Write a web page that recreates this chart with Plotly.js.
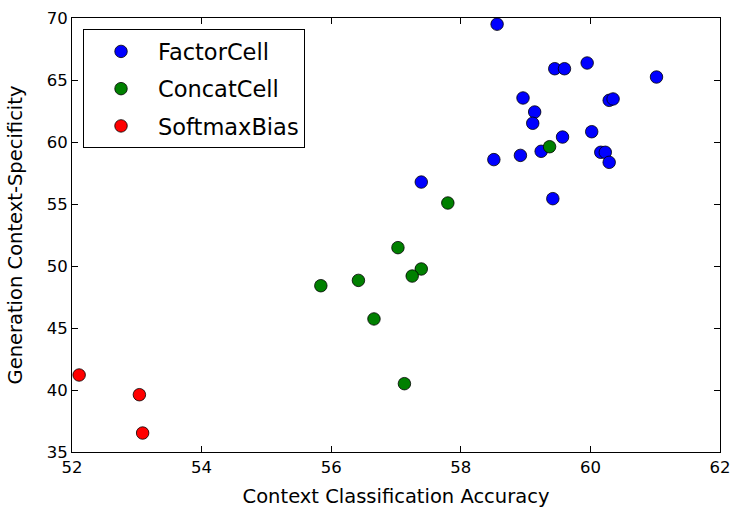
<!DOCTYPE html>
<html>
<head>
<meta charset="utf-8">
<script src="https://cdn.plot.ly/plotly-3.0.1.min.js"></script>
<style>html,body{margin:0;padding:0;background:#fff;}#chart{width:731px;height:508px;}</style>
</head>
<body>
<div id="chart"></div>
<script>
const factorX = [58.56, 59.45, 59.60, 59.95, 61.02, 58.96, 60.29, 60.35, 59.14, 59.11, 60.02, 59.57, 59.24, 58.92, 58.51, 60.16, 60.23, 60.29, 57.39, 59.42];
const factorY = [69.50, 65.91, 65.91, 66.37, 65.24, 63.55, 63.36, 63.47, 62.42, 61.51, 60.83, 60.40, 59.25, 58.92, 58.58, 59.17, 59.17, 58.36, 56.77, 55.43];
const concatX = [59.37, 57.80, 57.03, 57.39, 57.25, 56.42, 55.84, 56.66, 57.13];
const concatY = [59.62, 55.08, 51.48, 49.76, 49.19, 48.84, 48.41, 45.73, 40.51];
const softmaxX = [52.11, 53.04, 53.09];
const softmaxY = [41.21, 39.62, 36.53];
const seriesNames = ["FactorCell", "ConcatCell", "SoftmaxBias"];
const seriesColors = ["#0000ff", "#008000", "#ff0000"];
const xTicks = [52, 54, 56, 58, 60, 62];
const yTicks = [35, 40, 45, 50, 55, 60, 65, 70];

const xs = [factorX, concatX, softmaxX];
const ys = [factorY, concatY, softmaxY];
const traces = xs.map((x, i) => ({
  type: 'scatter', mode: 'markers', x: x, y: ys[i], name: seriesNames[i],
  legendgroup: 'g' + i,
  marker: {color: seriesColors[i], size: 12.5, line: {color: '#000', width: 0.8}}
}));

const FAM = 'DejaVu Sans, sans-serif';
const axisCommon = {
  showgrid: false, zeroline: false, showline: true, linecolor: '#000', linewidth: 1,
  mirror: 'allticks', ticks: 'inside', ticklen: 6, tickwidth: 1, tickcolor: '#000',
  tickfont: {family: FAM, size: 16.5, color: '#000'}, automargin: false
};
const layout = {
  width: 731, height: 508,
  margin: {l: 72, r: 11, t: 18, b: 56},
  paper_bgcolor: '#fff', plot_bgcolor: '#fff',
  font: {family: FAM, size: 14, color: '#000'},
  showlegend: true,
  xaxis: Object.assign({}, axisCommon, {range: [52, 62], tickvals: xTicks, ticktext: xTicks.map(String),
    title: {text: 'Context Classification Accuracy', font: {family: FAM, size: 19.5, color: '#000'}, standoff: 16}}),
  yaxis: Object.assign({}, axisCommon, {range: [35, 70], tickvals: yTicks, ticktext: yTicks.map(String),
    title: {text: 'Generation Context-Specificity', font: {family: FAM, size: 19.5, color: '#000'}, standoff: 18}}),
  legend: {
    x: 0.017, y: 0.974, xanchor: 'left', yanchor: 'top',
    bordercolor: '#000', borderwidth: 1, bgcolor: '#fff',
    font: {family: FAM, size: 22.5, color: '#000'},
    traceorder: 'grouped', tracegroupgap: 5, itemwidth: 64,
    entrywidth: 230, entrywidthmode: 'pixels'
  }
};
Plotly.newPlot('chart', traces, layout, {displayModeBar: false, staticPlot: true});
</script>
</body>
</html>
